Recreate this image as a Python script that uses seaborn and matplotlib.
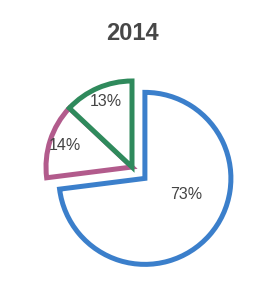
import numpy as np
import matplotlib
matplotlib.use("Agg")
import matplotlib.pyplot as plt
import seaborn as sns

# data
title = "2014"
shares = [73, 14, 13]
labels = ["73%", "14%", "13%"]
edge_colors = ["#3b7fcb", "#b25b8c", "#2f8a5c"]

sns.set_theme(style="white")
plt.rcParams['font.family'] = ['Liberation Sans', 'DejaVu Sans']

fig = plt.figure(figsize=(2.64, 2.86), dpi=100)
ax = fig.add_axes([0, 0, 1, 1])

wedges, _ = ax.pie(
    shares,
    startangle=90,
    counterclock=False,
    explode=[0.2, 0.0, 0.0],
    colors=["white"] * 3,
    wedgeprops=dict(linewidth=3.6, joinstyle="miter"),
)
for w, c in zip(wedges, edge_colors):
    w.set_edgecolor(c)

# label placement (radius fraction, angle shift in degrees)
lab_pos = [(0.52, 20), (0.82, 0), (0.82, -2)]
for w, lab, (r, shift) in zip(wedges, labels, lab_pos):
    ang = np.deg2rad((w.theta1 + w.theta2) / 2 + shift)
    cx, cy = w.center
    ax.text(cx + r * np.cos(ang), cy + r * np.sin(ang), lab,
            ha="center", va="center", fontsize=11.5, color="#444444")

# 86 px per unit, small wedges' centre at pixel (132, 167)
px, cxp, cyp = 86, 132, 167
ax.set_aspect("auto")
ax.set_xlim(-cxp / px, (264 - cxp) / px)
ax.set_ylim(-(286 - cyp) / px, cyp / px)
ax.axis("off")

fig.text(0.5, 1 - 33 / 286, title, ha="center", va="center",
         fontsize=17, fontweight="bold", color="#474747")

fig.savefig("out.png", dpi=100, facecolor="white")
